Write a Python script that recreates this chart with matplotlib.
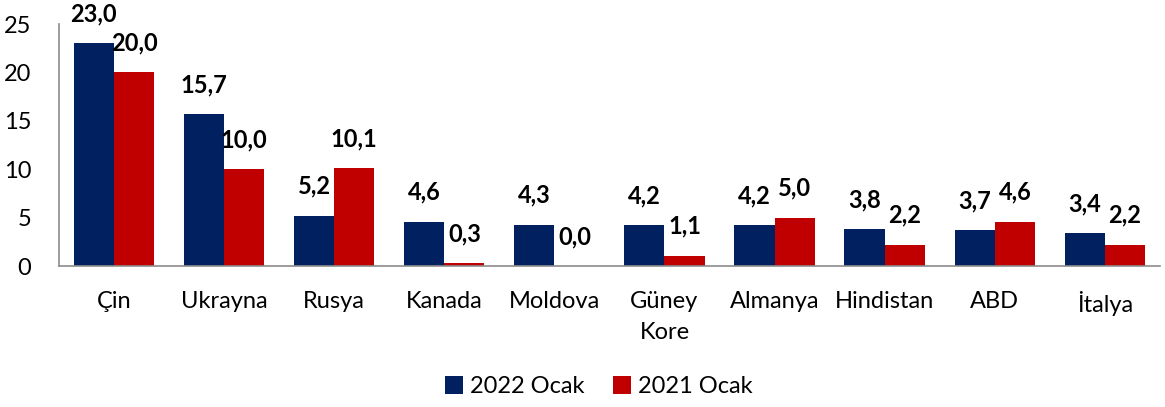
import matplotlib
matplotlib.use("Agg")
import matplotlib.pyplot as plt
import numpy as np

categories = ["Çin", "Ukrayna", "Rusya", "Kanada", "Moldova", "Güney\nKore",
              "Almanya", "Hindistan", "ABD", "İtalya"]
series_names = ["2022 Ocak", "2021 Ocak"]
values_2022 = [23.0, 15.7, 5.2, 4.6, 4.3, 4.2, 4.2, 3.8, 3.7, 3.4]
values_2021 = [20.0, 10.0, 10.1, 0.3, 0.0, 1.1, 5.0, 2.2, 4.6, 2.2]
yticks = [0, 5, 10, 15, 20, 25]

plt.rcParams['font.family'] = ['Lato', 'DejaVu Sans']

fig = plt.figure(figsize=(11.65, 4.07), dpi=100)
ax = fig.add_axes([0.0506, 0.346, 0.945, 0.595])

x = np.arange(len(categories))
w = 0.365
navy = "#002060"
red = "#C00000"
b1 = ax.bar(x - w/2, values_2022, w, color=navy, label=series_names[0])
b2 = ax.bar(x + w/2, values_2021, w, color=red, label=series_names[1])

def fmt(v):
    return f"{v:.1f}".replace(".", ",")

for bars, vals in ((b1, values_2022), (b2, values_2021)):
    for rect, v in zip(bars, vals):
        ax.annotate(fmt(v), (rect.get_x() + rect.get_width()/2, rect.get_height()),
                    xytext=(0, 13), textcoords="offset points",
                    ha="center", va="bottom", fontsize=17, fontweight="bold",
                    color="black", clip_on=False)

ax.set_xlim(-0.5, len(categories) - 0.5)
ax.set_ylim(0, 25)
ax.set_yticks(yticks)
ax.set_yticklabels([str(t) for t in yticks], fontsize=17)
ax.set_xticks(x)
ax.set_xticklabels(categories, fontsize=17, linespacing=1.55)
ax.tick_params(axis="both", length=0)
ax.tick_params(axis="x", pad=18)
ax.tick_params(axis="y", pad=20)
for s in ("top", "right"):
    ax.spines[s].set_visible(False)
for s in ("left", "bottom"):
    ax.spines[s].set_color("#8c8c8c")
    ax.spines[s].set_linewidth(1.2)

leg = fig.legend(handles=[b1, b2], labels=series_names, loc="center",
                 bbox_to_anchor=(0.514, 0.05), ncol=2, frameon=False,
                 fontsize=17, handlelength=0.75, handleheight=0.75,
                 handletextpad=0.3, columnspacing=1.2)

fig.savefig("out.png", dpi=100)
